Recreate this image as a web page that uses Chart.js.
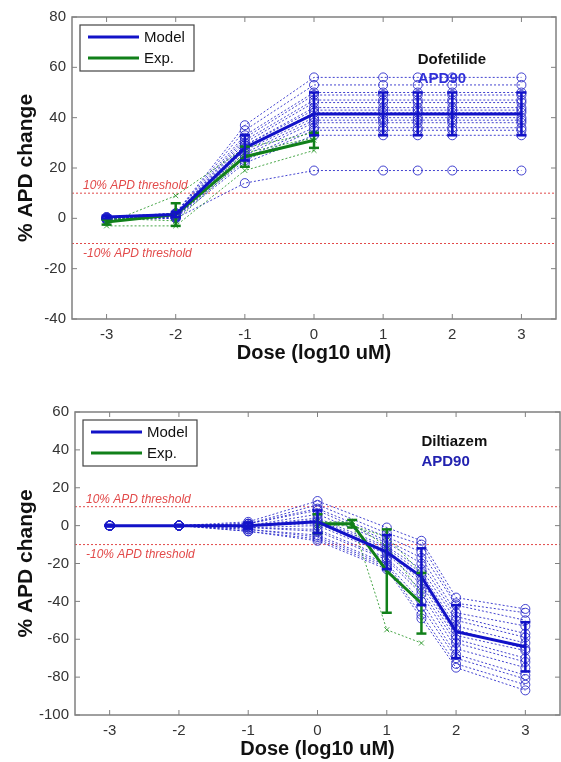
<!DOCTYPE html>
<html>
<head>
<meta charset="utf-8">
<script src="https://cdn.jsdelivr.net/npm/chart.js@4.4.0/dist/chart.umd.min.js"></script>
<style>
  body { margin: 0; background: #fff; overflow: hidden; }
  .panel { position: absolute; left: 0; width: 561px; }
  #top { top: 0; height: 380px; }
  #bot { top: 380px; height: 382px; }
</style>
</head>
<body>
<div class="panel" id="top"><canvas id="c1"></canvas></div>
<div class="panel" id="bot"><canvas id="c2"></canvas></div>
<script>
/* shared */
var doseTicks = [-3, -2, -1, 0, 1, 2, 3];
var thresholds = [10, -10];
var seriesLabels = ['Model', 'Exp.'];

/* Dofetilide */
var dofDose = [-3, -2, -1, 0, 1, 1.5, 2, 3];
var dofModelMean = [0.5, 1.5, 28, 41.5, 41.5, 41.5, 41.5, 41.5];
var dofModelSd = [0.5, 1, 5, 8.5, 8.5, 8.5, 8.5, 8.5];
var dofModelRuns = [
  [0.5, 2, 37, 56, 56, 56, 56, 56],
  [0.5, 2, 35, 53, 53, 53, 53, 53],
  [0, 2, 33, 50, 50, 50, 50, 50],
  [0, 1.5, 32, 49, 49, 49, 49, 49],
  [0, 1.5, 31, 47, 47, 47, 47, 47],
  [0, 1.5, 30, 46, 46, 46, 46, 46],
  [0, 1, 29, 44, 44, 44, 44, 44],
  [0, 1, 29, 43, 43, 43, 43, 43],
  [0, 1, 28, 42, 42, 42, 42, 42],
  [0, 1, 27, 40, 40, 40, 40, 40],
  [0, 1, 26, 39, 39, 39, 39, 39],
  [0, 0.5, 25, 38, 38, 38, 38, 38],
  [0, 0.5, 24, 36, 36, 36, 36, 36],
  [-0.5, 0.5, 23, 35, 35, 35, 35, 35],
  [-0.5, 0, 22, 33, 33, 33, 33, 33],
  [-0.5, 0, 14, 19, 19, 19, 19, 19]
];
var dofExpDose = [-3, -2, -1, 0];
var dofExpMean = [-1.5, 1.5, 24.5, 31];
var dofExpSd = [1, 4.5, 4, 3];
var dofExpRuns = [
  [-2, 9, 28, 34],
  [-1, 2, 26, 32],
  [-3, -3, 19, 27],
  [0, -1, 24, 31]
];

/* Diltiazem */
var dilDose = [-3, -2, -1, 0, 1, 1.5, 2, 3];
var dilModelMean = [0, 0, 0, 2, -14, -27, -56, -64];
var dilModelSd = [0.5, 0.5, 1.5, 6, 9, 15, 14, 13];
var dilModelRuns = [
  [0, 0, 2, 13, -1, -8, -38, -44],
  [0, 0, 1, 11, -4, -10, -41, -46],
  [0, 0, 1, 9, -6, -14, -42, -50],
  [0, 0, 1, 8, -8, -17, -46, -53],
  [0, 0, 0, 6, -9, -20, -48, -57],
  [0, 0, 0, 4, -11, -23, -50, -59],
  [0, 0, 0, 3, -12, -25, -53, -62],
  [0, 0, 0, 2, -13, -27, -55, -65],
  [0, 0, 0, 1, -14, -29, -58, -66],
  [0, 0, -1, 0, -15, -31, -60, -70],
  [0, 0, -1, -2, -17, -34, -62, -72],
  [0, 0, -1, -3, -18, -36, -65, -75],
  [0, 0, -2, -5, -20, -40, -68, -79],
  [0, 0, -2, -6, -21, -43, -70, -81],
  [0, 0, -3, -7, -22, -47, -73, -84],
  [0, 0, -3, -8, -23, -49, -75, -87]
];
var dilExpDose = [0, 0.5, 1, 1.5];
var dilExpMean = [1, 1, -24, -41];
var dilExpSd = [5, 2, 22, 16];
var dilExpRuns = [
  [2, 2, -55, -62],
  [0, 0, -6, -25],
  [1, 1, -11, -36]
];

var BLUE = '#1212c8';
var BLUE_RUN = 'rgba(35,35,200,0.85)';
var GREEN = '#11801a';
var GREEN_RUN = 'rgba(40,150,40,0.85)';
var RED = '#e24a4a';
var FONT = '"Liberation Sans", Arial, sans-serif';

Chart.defaults.font.family = FONT;

function xy(xs, ys) {
  return xs.map(function (x, i) { return {x: x, y: ys[i]}; });
}

function errorBars(xs, mean, sd) {
  var pts = [];
  xs.forEach(function (x, i) {
    pts.push({x: x, y: mean[i] - sd[i]});
    pts.push({x: x, y: mean[i] + sd[i]});
    pts.push({x: x, y: null});
  });
  return pts;
}

var matlabFrame = {
  id: 'matlab',
  afterDraw: function (chart, args, o) {
    var ctx = chart.ctx, a = chart.chartArea;
    var xs = chart.scales.x, ys = chart.scales.y;
    ctx.save();

    // threshold notes
    ctx.fillStyle = RED;
    ctx.font = 'italic 12px ' + FONT;
    ctx.textAlign = 'left';
    ctx.textBaseline = 'alphabetic';
    ctx.fillText('10% APD threshold', a.left + 11, ys.getPixelForValue(thresholds[0]) - 4);
    ctx.textBaseline = 'top';
    ctx.fillText('-10% APD threshold', a.left + 11, ys.getPixelForValue(thresholds[1]) + 4);

    // drug name
    ctx.font = 'bold 15px ' + FONT;
    ctx.textBaseline = 'middle';
    ctx.fillStyle = '#111';
    ctx.fillText(o.drug, xs.getPixelForValue(o.labelX), ys.getPixelForValue(o.drugY));
    ctx.fillStyle = o.apdColor;
    ctx.fillText('APD90', xs.getPixelForValue(o.labelX), ys.getPixelForValue(o.apdY));

    // box with inward ticks
    ctx.strokeStyle = '#808080';
    ctx.lineWidth = 1.5;
    ctx.strokeRect(a.left, a.top, a.right - a.left, a.bottom - a.top);
    ctx.lineWidth = 1;
    ctx.beginPath();
    xs.ticks.forEach(function (t) {
      var px = xs.getPixelForValue(t.value);
      ctx.moveTo(px, a.bottom); ctx.lineTo(px, a.bottom - 5);
      ctx.moveTo(px, a.top); ctx.lineTo(px, a.top + 5);
    });
    ys.ticks.forEach(function (t) {
      var py = ys.getPixelForValue(t.value);
      ctx.moveTo(a.left, py); ctx.lineTo(a.left + 5, py);
      ctx.moveTo(a.right, py); ctx.lineTo(a.right - 5, py);
    });
    ctx.stroke();

    // legend
    var lx = a.left + 8, ly = a.top + 8;
    ctx.fillStyle = '#fff';
    ctx.fillRect(lx, ly, 114, 46);
    ctx.strokeStyle = '#444';
    ctx.lineWidth = 1.2;
    ctx.strokeRect(lx, ly, 114, 46);
    [0, 1].forEach(function (k) {
      var ds = chart.data.datasets[k];
      var yy = ly + 12 + k * 21;
      ctx.strokeStyle = ds.borderColor;
      ctx.lineWidth = 3;
      ctx.beginPath();
      ctx.moveTo(lx + 8, yy);
      ctx.lineTo(lx + 59, yy);
      ctx.stroke();
      ctx.fillStyle = '#111';
      ctx.font = '15px ' + FONT;
      ctx.textBaseline = 'middle';
      ctx.fillText(ds.label, lx + 64, yy + 1);
    });
    ctx.restore();
  }
};

function makeChart(id, d) {
  var datasets = [
    {label: seriesLabels[0], data: xy(d.dose, d.modelMean), borderColor: BLUE, borderWidth: 3, pointRadius: 0, order: 1},
    {label: seriesLabels[1], data: xy(d.expDose, d.expMean), borderColor: GREEN, borderWidth: 3, pointRadius: 0, order: 1},
    {label: 'Model sd', data: errorBars(d.dose, d.modelMean, d.modelSd), borderColor: BLUE, borderWidth: 2.5,
      pointStyle: 'line', pointRadius: 5, pointBorderWidth: 2.5, pointBorderColor: BLUE, order: 0},
    {label: 'Exp sd', data: errorBars(d.expDose, d.expMean, d.expSd), borderColor: GREEN, borderWidth: 2.5,
      pointStyle: 'line', pointRadius: 5, pointBorderWidth: 2.5, pointBorderColor: GREEN, order: 0}
  ];
  thresholds.forEach(function (t) {
    datasets.push({label: 'threshold', data: [{x: -3.5, y: t}, {x: 3.5, y: t}], borderColor: RED,
      borderWidth: 1, borderDash: [2, 2], pointRadius: 0, order: 6});
  });
  d.modelRuns.forEach(function (run) {
    datasets.push({label: 'run', data: xy(d.dose, run), borderColor: BLUE_RUN, borderWidth: 1,
      borderDash: [2, 2], pointStyle: 'circle', pointRadius: 4.5, pointBorderWidth: 1,
      pointBorderColor: BLUE_RUN, pointBackgroundColor: 'rgba(0,0,0,0)', order: 5});
  });
  d.expRuns.forEach(function (run) {
    datasets.push({label: 'exp run', data: xy(d.expDose, run), borderColor: GREEN_RUN, borderWidth: 1,
      borderDash: [2, 2], pointStyle: 'crossRot', pointRadius: 3.5, pointBorderWidth: 1,
      pointBorderColor: GREEN_RUN, order: 4});
  });

  return new Chart(document.getElementById(id), {
    type: 'line',
    data: {datasets: datasets},
    plugins: [matlabFrame],
    options: {
      animation: false,
      responsive: true,
      maintainAspectRatio: false,
      layout: {autoPadding: false, padding: {top: d.padTop, right: d.padRight, bottom: 0, left: 0}},
      plugins: {
        legend: {display: false},
        tooltip: {enabled: false},
        matlab: {drug: d.drug, labelX: 1.5, drugY: d.drugY, apdY: d.apdY, apdColor: d.apdColor}
      },
      scales: {
        x: {
          type: 'linear',
          min: -3.5,
          max: 3.5,
          afterBuildTicks: function (scale) {
            scale.ticks = doseTicks.map(function (v) { return {value: v}; });
          },
          afterFit: function (scale) {
            scale.height = d.xHeight;
            scale.paddingLeft = 0;
            scale.paddingRight = 0;
          },
          grid: {display: false, drawTicks: false},
          border: {display: false},
          ticks: {color: '#333', font: {size: 15}, padding: d.xTickPad, maxRotation: 0},
          title: {display: true, text: 'Dose (log10 uM)', color: '#111',
            font: {size: 20, weight: 'bold'}, padding: {top: 0, bottom: d.xTitlePad}}
        },
        y: {
          min: d.yMin,
          max: d.yMax,
          ticks: {stepSize: 20, color: '#333', font: {size: 15}, padding: 6},
          afterFit: function (scale) { scale.width = d.yWidth; },
          grid: {display: false, drawTicks: false},
          border: {display: false},
          title: {display: true, text: '% APD change', color: '#111',
            font: {size: 21, weight: 'bold'}, padding: {top: 14, bottom: 0}}
        }
      }
    }
  });
}

makeChart('c1', {
  dose: dofDose, modelMean: dofModelMean, modelSd: dofModelSd, modelRuns: dofModelRuns,
  expDose: dofExpDose, expMean: dofExpMean, expSd: dofExpSd, expRuns: dofExpRuns,
  drug: 'Dofetilide', drugY: 63, apdY: 55.5, apdColor: '#3030d8',
  yMin: -40, yMax: 80, padTop: 17, padRight: 5, yWidth: 72,
  xHeight: 61, xTickPad: 7, xTitlePad: 15
});

makeChart('c2', {
  dose: dilDose, modelMean: dilModelMean, modelSd: dilModelSd, modelRuns: dilModelRuns,
  expDose: dilExpDose, expMean: dilExpMean, expSd: dilExpSd, expRuns: dilExpRuns,
  drug: 'Diltiazem', drugY: 44, apdY: 33.5, apdColor: '#2222b0',
  yMin: -100, yMax: 60, padTop: 32, padRight: 1, yWidth: 75,
  xHeight: 47, xTickPad: 7, xTitlePad: 1
});
</script>
</body>
</html>
